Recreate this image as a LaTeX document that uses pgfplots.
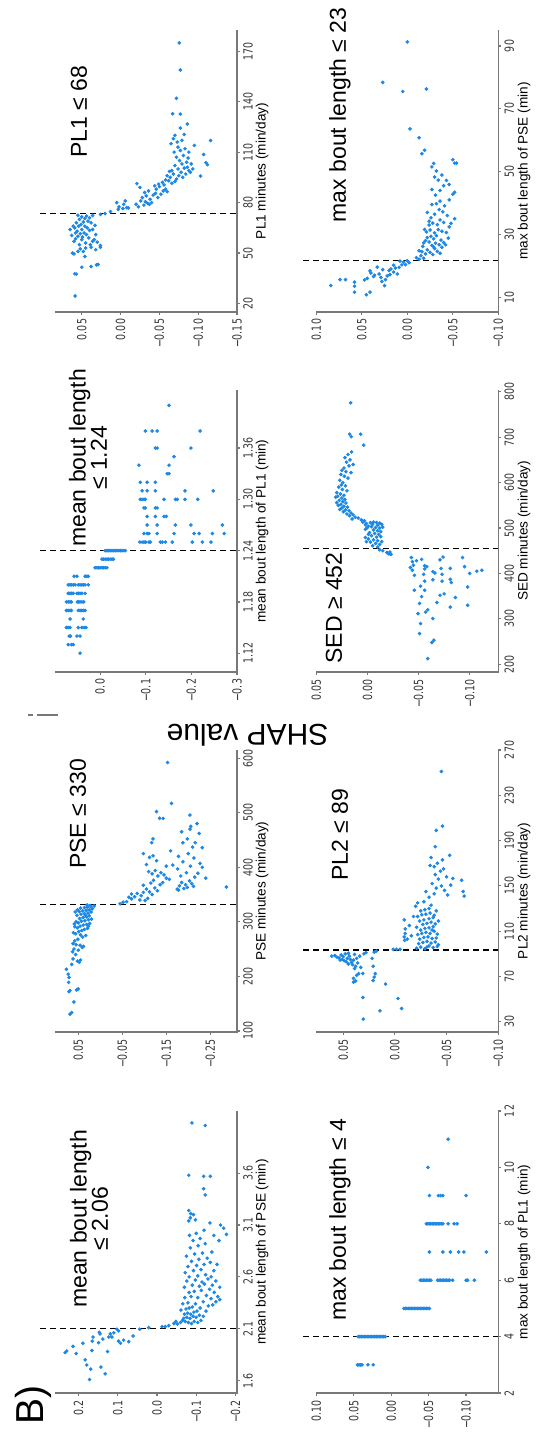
\documentclass[border=0pt]{standalone}
\usepackage{fontspec}
\setmainfont{Liberation Sans}
\newfontfamily\tickfamily{DejaVu Sans}
\usepackage{pgfplots}
\pgfplotsset{compat=1.18}

\definecolor{shapblue}{RGB}{30,136,229}
\definecolor{spine}{RGB}{120,120,120}
\definecolor{ticktext}{RGB}{55,55,55}

\newcommand{\tickfont}{\tickfamily\fontsize{6.3}{7}\selectfont}
\newcommand{\labelfont}{\fontsize{6.8}{8}\selectfont}
\newcommand{\titlefont}{\fontsize{11.5}{10.6}\selectfont}

% bottom and right spines of a panel (x runs reversed, so xmin sits on the right)
\newcommand{\spines}{%
  \draw[spine, line width=0.8pt]
    (axis cs:\pgfkeysvalueof{/pgfplots/xmax},\pgfkeysvalueof{/pgfplots/ymin})
 -- (axis cs:\pgfkeysvalueof{/pgfplots/xmin},\pgfkeysvalueof{/pgfplots/ymin})
 -- (axis cs:\pgfkeysvalueof{/pgfplots/xmin},\pgfkeysvalueof{/pgfplots/ymax});}

\tikzset{cut/.style={black, line width=0.7pt, dash pattern=on 3pt off 2pt}}
\pgfplotsset{
  shappanel/.style={
    scale only axis, width=91pt, height=141pt, anchor=center,
    x dir=reverse,
    axis x line*=bottom, axis y line*=right,
    axis line style={draw=spine, line width=0.8pt},
    tick style={draw=spine, line width=0.6pt},
    tick align=outside, major tick length=1.4pt,
    xticklabel style={rotate=90, xscale=0.75, anchor=east, font=\tickfont, text=ticktext, inner sep=2.6pt},
    yticklabel style={rotate=90, xscale=0.75, anchor=north, font=\tickfont, text=ticktext, inner sep=1.5pt},
    clip=false,
  },
  shapdots/.style={only marks, mark=*, mark size=0.7pt, color=shapblue,
    mark options={draw=none, fill=shapblue}},
}

\begin{document}
\begin{tikzpicture}
\useasboundingbox (0,0) rectangle (269pt,719.5pt);

% ---------- PL1 minutes ----------
\begin{axis}[shappanel, at={(73pt,634pt)},
  xmin=-0.15, xmax=0.0845, ymin=15, ymax=182.6,
  xtick={0.05,0,-0.05,-0.10,-0.15}, xticklabels={0.05,0.00,−0.05,−0.10,−0.15},
  ytick={20,50,80,110,140,170}, yticklabels={20,50,80,110,140,170}]
\addplot[shapdots] coordinates {
(0.0586,24.5) (0.059,37.7) (0.057,37.5) (0.050,41.6) (0.038,42) (0.031,43) (0.029,43.2)
(0.046,48) (0.060,49.5) (0.055,51) (0.048,51) (0.038,53.5) (0.026,53.5) (0.026,54.5)
(0.032,52) (0.062,50) (0.053,55) (0.045,56) (0.060,57) (0.058,58.5) (0.050,58) (0.036,57)
(0.030,56.5) (0.041,59) (0.055,60) (0.063,60.5) (0.052,61.5) (0.047,62) (0.056,63)
(0.032,61) (0.040,63.5) (0.050,64) (0.059,65) (0.054,66) (0.046,66) (0.043,65) (0.036,64)
(0.065,64) (0.051,67) (0.057,68) (0.048,68.5) (0.042,69) (0.053,70) (0.046,70.5) (0.040,71)
(0.050,71.5) (0.044,72) (0.036,72.3) (0.055,72.5) (0.038,68) (0.033,66.5) (0.061,66)
(0.058,62) (0.049,59.5) (0.044,61) (0.039,55) (0.034,58) (0.045,53) (0.052,52.5)
(0.026,73) (0.020,73.5) (0.013,74.7) (0.003,76) (-0.004,79) (0.002,77.5) (-0.003,76.5)
(-0.008,77) (-0.010,76.8) (0.005,80) (-0.006,81)
(-0.021,91.3) (-0.025,89) (-0.020,79) (-0.023,77.5) (-0.026,81) (-0.030,78.5) (-0.032,80.5)
(-0.035,79.5) (-0.037,79) (-0.028,83) (-0.033,84) (-0.040,80) (-0.038,82) (-0.042,84.5)
(-0.031,86) (-0.036,87) (-0.045,85.5) (-0.048,83) (-0.046,88) (-0.052,85) (-0.050,89.5)
(-0.055,87) (-0.049,91) (-0.044,90) (-0.058,88) (-0.056,90.5) (-0.060,86.5) (-0.054,92)
(-0.062,93) (-0.066,91.5) (-0.070,92.5) (-0.064,95) (-0.068,97) (-0.072,94) (-0.075,96)
(-0.080,95) (-0.078,98) (-0.084,97) (-0.088,99) (-0.086,101) (-0.082,100.5) (-0.074,100)
(-0.070,102) (-0.066,99) (-0.079,103) (-0.085,104) (-0.091,103) (-0.076,105) (-0.072,107)
(-0.081,108) (-0.087,106.5) (-0.069,110) (-0.077,111) (-0.074,113) (-0.083,112) (-0.060,96)
(-0.058,93.5) (-0.063,98.5) (-0.090,98) (-0.093,100)
(-0.103,95.8) (-0.110,103.7) (-0.112,102.5) (-0.107,108.6) (-0.095,114) (-0.116,116.9)
(-0.068,118) (-0.079,117) (-0.073,116) (-0.077,124.3) (-0.086,126.7) (-0.067,132.8)
(-0.077,132.6) (-0.072,142) (-0.077,158.8) (-0.0756,174.9) (-0.070,120) (-0.082,120.5)
(-0.065,115) (-0.088,110)
};
\draw[cut] (axis cs:0.1038,73.5) -- (axis cs:-0.15,73.5);
\spines
\end{axis}

% ---------- max bout length of PSE ----------
\begin{axis}[shappanel, at={(203.65pt,634pt)},
  xmin=-0.10, xmax=0.10, ymin=5.3, ymax=95.1,
  xtick={0.10,0.05,0,-0.05,-0.10}, xticklabels={0.10,0.05,0.00,−0.05,−0.10},
  ytick={10,30,50,70,90}, yticklabels={10,30,50,70,90}]
\addplot[shapdots] coordinates {
(0.084,13.7) (0.074,15.6) (0.068,15.6) (0.058,14.8) (0.058,13.5) (0.058,11.6) (0.045,10.8)
(0.041,11.6) (0.047,15.5) (0.044,16) (0.040,17.7) (0.041,18.4) (0.036,17) (0.031,17.4)
(0.029,16.3) (0.025,13.7) (0.024,15.6) (0.022,16.8) (0.020,18.5) (0.018,19.0) (0.015,20.2)
(0.013,19.3) (0.011,17.4) (0.009,19.5) (0.006,20.3) (0.004,21.2) (0.002,20.4) (0.000,21.6)
(-0.002,21.0) (0.008,21.5) (0.015,18) (0.019,17.2) (0.027,18.8) (0.033,19.6) (0.037,16.6)
(0.028,15)
(-0.010,22.6) (-0.013,22.1) (-0.015,23.2) (-0.018,22.4) (-0.020,23.8) (-0.016,24.5)
(-0.013,24.8) (-0.022,25.1) (-0.025,24.3) (-0.028,23.6) (-0.030,25.5) (-0.033,24.6)
(-0.036,24) (-0.038,25.9) (-0.035,26.7) (-0.031,27.2) (-0.027,26.5) (-0.024,27.6)
(-0.020,28) (-0.018,27.3) (-0.022,29) (-0.026,29.4) (-0.029,28.6) (-0.032,29.6)
(-0.037,28.2) (-0.040,27.4) (-0.042,26.7) (-0.045,28.8) (-0.043,30.6) (-0.038,31)
(-0.034,31.5) (-0.030,30.5) (-0.025,31.4) (-0.021,30.8) (-0.019,31.6) (-0.024,33)
(-0.028,33.6) (-0.033,33.1) (-0.036,34.6) (-0.040,33.8) (-0.046,32.4) (-0.048,33.5)
(-0.052,35) (-0.044,36) (-0.039,37.2) (-0.035,37.9) (-0.030,36.4) (-0.026,35.3)
(-0.022,37) (-0.027,39.5) (-0.032,39.8) (-0.036,40.6) (-0.041,39.1) (-0.046,41)
(-0.050,42.8) (-0.052,43.4) (-0.031,42.5) (-0.027,44.3) (-0.036,44) (-0.040,45.5)
(-0.046,45.9) (-0.034,47.3) (-0.030,48.3) (-0.038,48.9) (-0.043,47.2) (-0.032,50.2)
(-0.027,51.5) (-0.029,52.6) (-0.050,53.8) (-0.052,52.7) (-0.054,52.7) (-0.016,55.7)
(-0.019,56.8) (-0.013,60.8) (-0.003,63.6) (0.027,78.4) (0.005,75.5) (-0.021,76.3)
(0.000,91.3) (-0.024,34.2) (-0.029,26) (-0.017,26.2)
};
\draw[cut] (axis cs:0.1146,21.7) -- (axis cs:-0.10,21.7);
\spines
\end{axis}

% ---------- mean bout length of PL1 ----------
\begin{axis}[shappanel, at={(73pt,454pt)},
  xmin=-0.30, xmax=0.099, ymin=1.098, ymax=1.428,
  xtick={0,-0.1,-0.2,-0.3}, xticklabels={0.0,−0.1,−0.2,−0.3},
  ytick={1.12,1.18,1.24,1.30,1.36}, yticklabels={1.12,1.18,1.24,1.30,1.36}]
\addplot[shapdots] coordinates {
(0.044,1.12)
(0.070,1.13) (0.059,1.13) (0.063,1.13)
(0.068,1.14) (0.065,1.14) (0.051,1.14) (0.044,1.14)
(0.074,1.15) (0.070,1.15) (0.066,1.15) (0.048,1.15) (0.040,1.15) (0.035,1.15) (0.031,1.15)
(0.066,1.16) (0.037,1.16)
(0.074,1.17) (0.070,1.17) (0.066,1.17) (0.063,1.17) (0.048,1.17) (0.044,1.17) (0.040,1.17) (0.037,1.17) (0.033,1.17)
(0.074,1.18) (0.070,1.18) (0.066,1.18) (0.063,1.18) (0.050,1.18) (0.047,1.18) (0.044,1.18) (0.040,1.18) (0.036,1.18)
(0.070,1.19) (0.066,1.19) (0.063,1.19) (0.059,1.19) (0.051,1.19) (0.048,1.19) (0.044,1.19) (0.040,1.19) (0.033,1.19)
(0.070,1.20) (0.066,1.20) (0.063,1.20) (0.059,1.20) (0.055,1.20) (0.048,1.20) (0.044,1.20) (0.040,1.20) (0.037,1.20) (0.033,1.20) (0.026,1.20)
(0.057,1.21) (0.051,1.21) (0.033,1.21) (0.029,1.21) (0.026,1.21)
(0.011,1.22) (0.007,1.22) (0.004,1.22) (0.000,1.22) (-0.004,1.22) (-0.007,1.22) (-0.011,1.22) (-0.015,1.22)
(-0.004,1.23) (-0.007,1.23) (-0.011,1.23) (-0.015,1.23) (-0.018,1.23) (-0.022,1.23) (-0.026,1.23) (-0.029,1.23)
(-0.011,1.24) (-0.015,1.24) (-0.019,1.24) (-0.022,1.24) (-0.026,1.24) (-0.030,1.24) (-0.033,1.24) (-0.037,1.24) (-0.041,1.24) (-0.044,1.24) (-0.048,1.24) (-0.052,1.24) (-0.055,1.24)
(-0.087,1.25) (-0.092,1.25) (-0.096,1.25) (-0.100,1.25) (-0.107,1.25) (-0.110,1.25) (-0.132,1.25) (-0.136,1.25) (-0.143,1.25) (-0.158,1.25) (-0.202,1.25) (-0.224,1.25) (-0.243,1.25)
(-0.096,1.26) (-0.103,1.26) (-0.107,1.26) (-0.125,1.26) (-0.162,1.26) (-0.206,1.26) (-0.217,1.26) (-0.246,1.26) (-0.272,1.26)
(-0.103,1.27) (-0.125,1.27) (-0.165,1.27) (-0.199,1.27) (-0.268,1.27)
(-0.103,1.28) (-0.121,1.28) (-0.140,1.28) (-0.145,1.28)
(-0.096,1.29) (-0.099,1.29) (-0.121,1.29) (-0.125,1.29)
(-0.088,1.30) (-0.092,1.30) (-0.096,1.30) (-0.099,1.30) (-0.140,1.30) (-0.165,1.30) (-0.169,1.30) (-0.186,1.30) (-0.214,1.30)
(-0.092,1.31) (-0.103,1.31) (-0.121,1.31) (-0.186,1.31) (-0.248,1.31)
(-0.088,1.32) (-0.103,1.32) (-0.121,1.32)
(-0.147,1.33) (-0.151,1.33)
(-0.085,1.34) (-0.151,1.34)
(-0.162,1.35)
(-0.121,1.36) (-0.125,1.36) (-0.199,1.36)
(-0.099,1.38) (-0.114,1.38) (-0.125,1.38) (-0.219,1.38)
(-0.151,1.41)
};
\draw[cut] (axis cs:0.132,1.2402) -- (axis cs:-0.30,1.2402);
\spines
\end{axis}

% ---------- SED minutes ----------
\begin{axis}[shappanel, at={(203.65pt,454pt)},
  xmin=-0.128, xmax=0.05, ymin=183, ymax=804,
  xtick={0.05,0,-0.05,-0.10}, xticklabels={0.05,0.00,−0.05,−0.10},
  ytick={200,300,400,500,600,700,800}, yticklabels={200,300,400,500,600,700,800}]
\addplot[shapdots] coordinates {
(0.0164,775.7) (0.0174,706.7) (0.0158,701) (0.0066,706.7) (0.0037,682.5) (0.0155,667.6)
(0.0190,662) (0.0220,655) (0.0170,650) (0.0205,645) (0.0140,640) (0.0180,637) (0.0230,632)
(0.0250,627) (0.0210,624) (0.0160,622) (0.0260,618) (0.0225,614) (0.0190,610) (0.0270,605)
(0.0240,600) (0.0255,595) (0.0215,593) (0.0280,590) (0.0245,585) (0.0200,582) (0.0300,578)
(0.0265,575) (0.0230,572) (0.0290,570) (0.0310,568) (0.0250,566) (0.0220,563) (0.0275,561)
(0.0240,558) (0.0300,556) (0.0210,555) (0.0260,552) (0.0285,550) (0.0230,548) (0.0195,546)
(0.0250,544) (0.0270,541) (0.0215,540) (0.0180,538) (0.0235,536) (0.0160,533) (0.0200,531)
(0.0140,529) (0.0175,527) (0.0120,524) (0.0090,522) (0.0150,520) (0.0060,518) (0.0030,516)
(0.0045,513) (0.0010,510) (0.0020,507) (-0.0010,504) (0.0005,500) (0.0020,497)
(-0.003,512) (-0.006,513) (-0.009,512) (-0.012,511) (-0.005,508) (-0.010,506) (-0.014,508)
(-0.004,503) (-0.008,501) (-0.012,500) (-0.015,502) (-0.006,496) (-0.010,494) (-0.013,492)
(-0.002,490) (-0.007,488) (-0.011,486) (-0.004,483) (-0.009,480) (-0.013,481) (-0.001,476)
(-0.006,474) (-0.010,472) (-0.003,469) (-0.008,466) (-0.012,464) (-0.005,461) (-0.010,458)
(-0.001,486) (0.002,479) (0.001,470) (-0.014,470)
(-0.012,452) (-0.015,450) (-0.019,446) (-0.020,445) (-0.021,443) (-0.023,442) (-0.022,447)
(-0.043,435) (-0.044,426) (-0.045,418) (-0.042,413) (-0.044,407) (-0.046,396) (-0.053,431)
(-0.056,417) (-0.058,415) (-0.056,410) (-0.074,436) (-0.071,430) (-0.072,411) (-0.093,435)
(-0.095,415) (-0.107,405) (-0.112,407) (-0.100,400) (-0.081,411) (-0.064,404) (-0.066,401)
(-0.073,398) (-0.055,398) (-0.056,383) (-0.046,363) (-0.056,363) (-0.064,386) (-0.073,383)
(-0.081,387) (-0.082,380) (-0.071,352) (-0.075,355) (-0.086,347) (-0.098,370) (-0.098,330)
(-0.053,349) (-0.051,334) (-0.081,326) (-0.068,336) (-0.0495,311.6) (-0.057,315) (-0.059,320)
(-0.064,300.6) (-0.052,289.6) (-0.051,267.6) (-0.065,253) (-0.063,248) (-0.059,212.5)
(-0.048,428) (-0.052,372)
};
\draw[cut] (axis cs:0.063,454.8) -- (axis cs:-0.128,454.8);
\spines
\end{axis}

% ---------- PSE minutes ----------
\begin{axis}[shappanel, at={(73pt,274pt)},
  xmin=-0.311, xmax=0.103, ymin=98, ymax=615,
  xtick={0.05,-0.05,-0.15,-0.25}, xticklabels={0.05,−0.05,−0.15,−0.25},
  ytick={100,200,300,400,500,600}, yticklabels={100,200,300,400,500,600}]
\addplot[shapdots] coordinates {
(0.069,130.7) (0.065,133.7) (0.060,153) (0.071,172) (0.069,174) (0.054,175) (0.050,177)
(0.072,189) (0.071,198) (0.073,204) (0.077,213) (0.065,222) (0.062,232) (0.052,228)
(0.048,226) (0.045,230) (0.056,240) (0.063,245) (0.050,248) (0.060,250) (0.041,253)
(0.038,255) (0.046,257) (0.055,258) (0.062,260) (0.058,265) (0.051,268) (0.040,272)
(0.033,275) (0.045,276) (0.056,278) (0.061,280) (0.049,282) (0.042,284) (0.036,286)
(0.029,288) (0.052,289) (0.058,291) (0.046,292) (0.039,294) (0.031,295) (0.024,297)
(0.050,298) (0.055,300) (0.043,301) (0.035,302) (0.027,304) (0.020,305) (0.047,306)
(0.039,308) (0.031,309) (0.025,311) (0.053,312) (0.044,314) (0.036,315) (0.028,316)
(0.021,318) (0.048,319) (0.040,320) (0.032,321) (0.025,322) (0.018,324) (0.045,325)
(0.036,326) (0.029,327) (0.022,328) (0.014,329) (0.030,331) (0.023,330) (0.057,318)
(0.052,322) (0.034,312) (0.059,296) (0.027,292)
(-0.045,333) (-0.052,336) (-0.060,337) (-0.065,345) (-0.071,351) (-0.071,342) (-0.078,346)
(-0.084,352)
(-0.098,354) (-0.098,367) (-0.090,340) (-0.093,348) (-0.102,339) (-0.108,343) (-0.112,355)
(-0.118,350) (-0.105,360) (-0.124,362) (-0.130,357) (-0.115,371) (-0.121,376) (-0.136,368)
(-0.142,372) (-0.131,384) (-0.118,388) (-0.110,392) (-0.125,394) (-0.138,390) (-0.145,386)
(-0.150,380) (-0.157,378) (-0.105,405) (-0.112,418) (-0.120,421) (-0.128,412) (-0.098,425)
(-0.117,445) (-0.120,452) (-0.128,502) (-0.143,489.6) (-0.135,490) (-0.153,592) (-0.162,517)
(-0.175,360) (-0.180,366) (-0.185,372) (-0.178,358) (-0.190,361) (-0.194,368) (-0.198,363)
(-0.203,375) (-0.208,370) (-0.212,365) (-0.183,384) (-0.176,397) (-0.196,390) (-0.215,382)
(-0.222,389) (-0.205,402) (-0.227,407) (-0.213,417) (-0.188,410) (-0.178,420) (-0.200,425)
(-0.210,437) (-0.188,445) (-0.198,452) (-0.216,445) (-0.232,436) (-0.225,462) (-0.204,470)
(-0.206,475) (-0.204,495.7) (-0.220,480) (-0.185,465) (-0.287,363.8) (-0.240,380)
(-0.232,400) (-0.165,404) (-0.160,430) (-0.150,402)
};
\draw[cut] (axis cs:0.137,331.9) -- (axis cs:-0.311,331.9);
\spines
\end{axis}

% ---------- PL2 minutes ----------
\begin{axis}[shappanel, at={(203.65pt,274pt)},
  xmin=-0.10, xmax=0.076, ymin=21, ymax=270,
  xtick={0.05,0,-0.05,-0.10}, xticklabels={0.05,0.00,−0.05,−0.10},
  ytick={30,70,110,150,190,230,270}, yticklabels={30,70,110,150,190,230,270}]
\addplot[shapdots] coordinates {
(0.0306,32.4) (0.0145,39.7) (-0.0065,41.8) (-0.003,50.6) (0.031,51.5) (0.009,63.3) (0.040,65)
(0.038,66) (0.040,68.3) (0.031,72.7) (0.037,71) (0.035,72.5) (0.021,66.5) (0.020,69.5)
(0.019,72.5) (0.021,79) (0.022,86) (0.039,77) (0.038,79) (0.033,78) (0.036,82) (0.041,80.5)
(0.045,81) (0.042,82.5) (0.047,83) (0.049,84) (0.051,85) (0.054,86.5) (0.058,88.5) (0.061,88)
(0.056,87) (0.052,89) (0.050,87.5) (0.046,86) (0.044,88) (0.048,90) (0.043,85) (0.040,84.5)
(0.037,86) (0.034,88) (0.039,89.5) (0.053,84.5) (0.045,90.5) (0.030,90) (0.028,91) (0.020,91.5)
(0.018,92.5)
(0.0016,94) (-0.0016,94) (-0.005,94) (-0.009,105) (-0.0095,102) (-0.010,108) (-0.010,112)
(-0.009,120) (-0.012,103) (-0.016,106) (-0.014,115) (-0.018,123)
(-0.021,95) (-0.025,96) (-0.029,94.5) (-0.033,97) (-0.037,95.5) (-0.041,96.5) (-0.023,99)
(-0.027,100) (-0.031,101) (-0.035,99.5) (-0.039,100.5) (-0.042,98) (-0.024,103) (-0.028,104.5)
(-0.032,105) (-0.036,103.5) (-0.040,104) (-0.022,107) (-0.026,108) (-0.030,109) (-0.034,108)
(-0.038,110) (-0.041,107.5) (-0.025,111) (-0.029,112.5) (-0.033,113) (-0.037,114) (-0.021,113.5)
(-0.027,116) (-0.031,117) (-0.035,118) (-0.039,116.5) (-0.024,119) (-0.028,120) (-0.033,121)
(-0.037,122) (-0.022,123) (-0.026,124.5) (-0.030,125) (-0.034,126) (-0.038,124) (-0.025,128)
(-0.029,129) (-0.033,130) (-0.020,132) (-0.022,135) (-0.035,133) (-0.028,136) (-0.040,128)
(-0.036,111) (-0.042,119) (-0.031,96)
(-0.033,140) (-0.030,145) (-0.038,143) (-0.040,148) (-0.036,152) (-0.045,150) (-0.042,156)
(-0.039,160) (-0.044,163) (-0.038,167) (-0.041,170) (-0.047,165) (-0.050,158) (-0.054,150.7)
(-0.056,156.6) (-0.0645,155) (-0.066,145) (-0.067,141) (-0.053,177) (-0.046,173) (-0.035,175)
(-0.039,184.6) (-0.040,199) (-0.046,202.8) (-0.045,251) (-0.034,168) (-0.048,146) (-0.051,142)
};
\draw[cut] (axis cs:0.0887,93.3) -- (axis cs:-0.10,93.3);
\spines
\end{axis}

% ---------- mean bout length of PSE ----------
\begin{axis}[shappanel, at={(73pt,93.5pt)},
  xmin=-0.204, xmax=0.26, ymin=1.48, ymax=4.2,
  xtick={0.2,0.1,0,-0.1,-0.2}, xticklabels={0.2,0.1,0.0,−0.1,−0.2},
  ytick={1.6,2.1,2.6,3.1,3.6}, yticklabels={1.6,2.1,2.6,3.1,3.6}]
\addplot[shapdots] coordinates {
(0.172,1.61) (0.132,1.665) (0.143,1.73) (0.169,1.71) (0.179,1.75) (0.183,1.80) (0.206,1.86)
(0.234,1.87) (0.230,1.885) (0.214,1.93) (0.189,1.96) (0.166,1.89) (0.126,1.88) (0.149,1.965)
(0.145,2.05) (0.147,2.065) (0.163,2.02) (0.165,1.98) (0.123,2.02) (0.115,2.02) (0.119,2.05)
(0.098,1.98) (0.085,1.99) (0.072,1.975) (0.061,2.03) (0.093,1.96) (0.098,2.08) (0.102,2.095)
(0.044,2.095) (0.021,2.11) (0.138,2.0) (0.110,2.06)
(-0.013,2.12) (-0.021,2.12) (-0.030,2.13) (-0.043,2.15) (-0.052,2.145) (-0.060,2.16) (-0.048,2.17)
(-0.065,2.18) (-0.072,2.17) (-0.080,2.16) (-0.088,2.15) (-0.095,2.17) (-0.104,2.16) (-0.112,2.18)
(-0.068,2.20) (-0.076,2.21) (-0.084,2.20) (-0.092,2.22) (-0.100,2.21) (-0.108,2.23) (-0.118,2.22)
(-0.070,2.24) (-0.078,2.25) (-0.086,2.24) (-0.094,2.26) (-0.102,2.27) (-0.125,2.27) (-0.061,2.28)
(-0.074,2.29) (-0.082,2.30) (-0.090,2.31) (-0.110,2.30) (-0.131,2.32) (-0.142,2.33) (-0.066,2.34)
(-0.079,2.35) (-0.098,2.34) (-0.118,2.36) (-0.150,2.36) (-0.160,2.38) (-0.071,2.40) (-0.087,2.41)
(-0.104,2.40) (-0.126,2.42) (-0.138,2.39) (-0.155,2.41) (-0.082,2.45) (-0.095,2.46) (-0.113,2.47)
(-0.134,2.48) (-0.146,2.45) (-0.070,2.50) (-0.090,2.52) (-0.108,2.51) (-0.121,2.53) (-0.141,2.52)
(-0.160,2.50) (-0.076,2.56) (-0.098,2.57) (-0.115,2.55) (-0.130,2.58) (-0.150,2.56) (-0.082,2.60)
(-0.104,2.61) (-0.124,2.62) (-0.138,2.60) (-0.072,2.64) (-0.093,2.66) (-0.112,2.67) (-0.145,2.66)
(-0.079,2.70) (-0.101,2.71) (-0.120,2.72) (-0.136,2.74) (-0.153,2.72) (-0.088,2.75) (-0.107,2.77)
(-0.128,2.78) (-0.075,2.80) (-0.096,2.82) (-0.116,2.83) (-0.140,2.84) (-0.085,2.88) (-0.105,2.90)
(-0.123,2.92) (-0.092,2.95) (-0.110,2.97) (-0.158,2.95) (-0.177,3.01) (-0.083,3.00) (-0.100,3.02)
(-0.120,3.05) (-0.162,3.10) (-0.170,3.07) (-0.081,3.14) (-0.085,3.17) (-0.098,3.15) (-0.093,3.20)
(-0.081,3.24) (-0.086,3.21) (-0.119,3.45) (-0.123,3.39) (-0.081,3.58) (-0.119,3.57) (-0.136,3.57)
(-0.089,4.085) (-0.123,4.06) (-0.135,3.12) (-0.145,3.00)
};
\draw[cut] (axis cs:0.298,2.105) -- (axis cs:-0.204,2.105);
\spines
\end{axis}

% ---------- max bout length of PL1 ----------
\begin{axis}[shappanel, at={(203.65pt,93.5pt)},
  xmin=-0.143, xmax=0.10, ymin=2, ymax=12,
  xtick={0.10,0.05,0,-0.05,-0.10}, xticklabels={0.10,0.05,0.00,−0.05,−0.10},
  ytick={2,4,6,8,10,12}, yticklabels={2,4,6,8,10,12}]
\addplot[shapdots] coordinates {
(0.045,3) (0.043,3) (0.041,3) (0.039,3) (0.031,3) (0.024,3)
(0.044,4) (0.042,4) (0.040,4) (0.038,4) (0.036,4) (0.034,4) (0.032,4) (0.030,4) (0.028,4)
(0.026,4) (0.024,4) (0.022,4) (0.020,4) (0.018,4) (0.016,4) (0.014,4) (0.012,4) (0.010,4) (0.008,4)
(-0.017,5) (-0.019,5) (-0.021,5) (-0.023,5) (-0.025,5) (-0.027,5) (-0.029,5) (-0.031,5) (-0.033,5)
(-0.035,5) (-0.037,5) (-0.039,5) (-0.041,5) (-0.043,5) (-0.045,5) (-0.047,5) (-0.049,5) (-0.051,5)
(-0.039,6) (-0.041,6) (-0.043,6) (-0.045,6) (-0.047,6) (-0.049,6) (-0.051,6) (-0.053,6) (-0.062,6)
(-0.064,6) (-0.066,6) (-0.068,6) (-0.070,6) (-0.072,6) (-0.074,6) (-0.076,6) (-0.078,6) (-0.082,6)
(-0.100,6) (-0.102,6) (-0.111,6)
(-0.051,7) (-0.069,7) (-0.079,7) (-0.090,7) (-0.097,7) (-0.127,7)
(-0.047,8) (-0.049,8) (-0.051,8) (-0.053,8) (-0.055,8) (-0.057,8) (-0.059,8) (-0.061,8) (-0.063,8)
(-0.065,8) (-0.067,8) (-0.069,8) (-0.076,8) (-0.084,8) (-0.088,8)
(-0.051,9) (-0.063,9) (-0.066,9) (-0.069,9) (-0.100,9)
(-0.049,10)
(-0.076,11)
};
\draw[cut] (axis cs:0.118,4) -- (axis cs:-0.143,4);
\spines
\end{axis}

% axis labels of the feature axes
\node[rotate=90, font=\labelfont] at (131pt,634pt) {PL1 minutes (min/day)};
\node[rotate=90, font=\labelfont] at (262pt,634pt) {max bout length of PSE (min)};
\node[rotate=90, font=\labelfont] at (131pt,454pt) {mean bout length of PL1 (min)};
\node[rotate=90, font=\labelfont] at (262pt,454pt) {SED minutes (min/day)};
\node[rotate=90, font=\labelfont] at (131pt,274pt) {PSE minutes (min/day)};
\node[rotate=90, font=\labelfont] at (262pt,274pt) {PL2 minutes (min/day)};
\node[rotate=90, font=\labelfont] at (131pt,93.5pt) {mean bout length of PSE (min)};
\node[rotate=90, font=\labelfont] at (262pt,93.5pt) {max bout length of PL1 (min)};

% thresholds
\node[rotate=90, font=\titlefont] at (39.5pt,663.5pt) {PL1 ≤ 68};
\node[rotate=90, font=\titlefont] at (170pt,662pt) {max bout length ≤ 23};
\node[rotate=90, font=\titlefont, align=center] at (44pt,490.5pt) {mean bout length\\≤ 1.24};
\node[rotate=90, font=\titlefont] at (167pt,415.5pt) {SED ≥ 452};
\node[rotate=90, font=\titlefont] at (39pt,312.5pt) {PSE ≤ 330};
\node[rotate=90, font=\titlefont] at (170pt,302pt) {PL2 ≤ 89};
\node[rotate=90, font=\titlefont, align=center] at (44.5pt,110pt) {mean bout length\\≤ 2.06};
\node[rotate=90, font=\titlefont] at (170pt,109.5pt) {max bout length ≤ 4};

% shared SHAP label and panel letter
\node[rotate=180, anchor=base, font=\fontsize{15}{18}\selectfont] at (123.75pt,357pt) {SHAP value};
\node[rotate=90, anchor=base, font=\fontsize{19.5}{22}\selectfont] at (21.5pt,16.75pt) {B)};
\draw[spine, line width=0.6pt] (18.5pt,362pt) -- (29pt,362pt);
\draw[spine, line width=0.6pt] (14pt,362pt) -- (16.5pt,362pt);
\end{tikzpicture}
\end{document}
